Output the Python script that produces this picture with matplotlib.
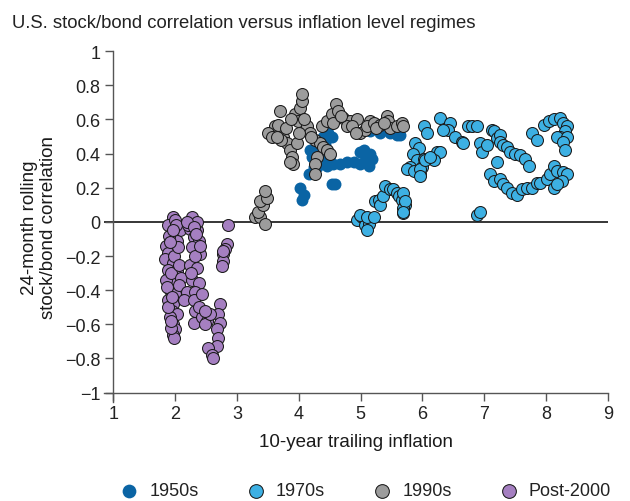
import matplotlib
matplotlib.use("Agg")
import matplotlib.pyplot as plt

plt.rcParams['font.family'] = ['Liberation Sans', 'DejaVu Sans']

# ---------------------------------------------------------------------
# DATA
# ---------------------------------------------------------------------

x_1950s = [4.40, 4.43, 4.45, 4.51, 4.35, 4.37, 4.18, 4.21, 4.29, 4.24, 4.16,
           4.02, 4.08, 4.05, 4.53, 4.59,
           4.29, 4.45, 4.56, 4.67, 4.78, 4.89, 4.99,
           4.99, 5.10, 5.18, 5.05, 5.13, 5.05, 5.15,
           5.15, 5.32, 5.48, 5.59, 5.64, 4.48, 4.54]
y_1950s = [0.50, 0.46, 0.42, 0.39, 0.44, 0.36, 0.42, 0.38, 0.40, 0.32, 0.28,
           0.20, 0.16, 0.13, 0.22, 0.22,
           0.32, 0.33, 0.34, 0.34, 0.35, 0.35, 0.34,
           0.41, 0.39, 0.37, 0.35, 0.33, 0.42, 0.40,
           0.53, 0.52, 0.52, 0.51, 0.51, 0.52, 0.50]

x_1970s = [4.94, 5.02, 5.07, 5.13, 5.10, 4.99, 5.10, 5.21,
           5.24, 5.29, 5.32, 5.37, 5.40, 5.48, 5.53, 5.59, 5.62, 5.67, 5.72,
           5.69, 5.69, 5.69, 5.72, 5.69,
           5.88, 5.94, 5.85, 5.91, 5.80, 5.96, 5.99, 6.02, 6.15, 6.23, 6.29,
           6.18, 5.75, 5.86, 5.96, 6.04, 6.12, 5.96,
           6.02, 6.07, 6.29, 6.45, 6.42, 6.34, 6.53, 6.64, 6.66, 6.74, 6.80, 6.88,
           6.93, 6.96, 7.04, 7.12, 7.15, 7.20, 7.26, 7.26, 7.31, 7.37, 7.42,
           7.50, 7.58, 7.66, 7.72,
           7.20, 7.09, 7.15, 7.26, 7.31, 7.37, 7.45, 7.53, 7.61, 7.69, 7.77, 7.85,
           7.90, 8.01, 8.07, 8.12, 8.17, 8.28, 8.34, 8.26, 8.12, 8.17,
           7.77, 7.85, 7.96, 8.04, 8.12, 8.23, 8.28, 8.34, 8.31, 8.23, 8.17,
           8.34, 8.28, 8.31,
           6.88, 6.93]
y_1970s = [0.01, 0.03, -0.02, -0.01, -0.05, 0.04, 0.03, 0.03,
           0.12, 0.13, 0.10, 0.15, 0.21, 0.19, 0.19, 0.17, 0.15, 0.13, 0.10,
           0.08, 0.05, 0.17, 0.12, 0.06,
           0.46, 0.43, 0.40, 0.36, 0.32, 0.28, 0.32, 0.37, 0.38, 0.41, 0.41,
           0.36, 0.31, 0.30, 0.31, 0.36, 0.38, 0.27,
           0.56, 0.52, 0.61, 0.58, 0.54, 0.54, 0.50, 0.47, 0.46, 0.56, 0.56, 0.56,
           0.46, 0.41, 0.45, 0.54, 0.53, 0.49, 0.51, 0.47, 0.45, 0.44, 0.41,
           0.40, 0.39, 0.37, 0.33,
           0.35, 0.28, 0.24, 0.25, 0.22, 0.20, 0.17, 0.16, 0.19, 0.20, 0.20, 0.23,
           0.23, 0.25, 0.28, 0.33, 0.30, 0.29, 0.28, 0.24, 0.20, 0.22,
           0.52, 0.48, 0.57, 0.59, 0.60, 0.61, 0.58, 0.56, 0.53, 0.50, 0.50,
           0.50, 0.47, 0.42,
           0.04, 0.06]

x_1990s = [3.29, 3.38, 3.34, 3.46, 3.43, 3.38, 3.48, 3.46,
           3.54, 3.62, 3.70, 3.67, 3.75, 3.81, 3.86, 3.89, 3.91, 3.86, 3.97,
           3.94, 4.02, 4.05, 4.05, 3.99,
           4.13, 4.18, 4.26, 4.35, 4.40, 4.45, 4.51, 4.29, 4.26, 4.26,
           4.37, 4.45, 4.53, 4.61, 4.64, 4.72, 4.83, 4.94, 4.78, 4.86,
           4.99, 5.07, 5.15, 5.10, 5.21, 5.32, 5.42, 5.45, 5.48, 5.59, 5.67,
           5.69, 4.93, 3.50, 3.56,
           3.80, 3.88, 4.00, 3.72, 3.65, 4.09, 4.20, 4.55, 4.68, 5.25, 5.38]
y_1990s = [0.03, 0.03, 0.06, -0.01, 0.10, 0.12, 0.14, 0.18,
           0.52, 0.56, 0.65, 0.57, 0.50, 0.46, 0.42, 0.38, 0.34, 0.35, 0.46,
           0.63, 0.67, 0.71, 0.75, 0.59,
           0.56, 0.52, 0.48, 0.46, 0.44, 0.42, 0.40, 0.38, 0.34, 0.28,
           0.56, 0.59, 0.63, 0.69, 0.65, 0.61, 0.59, 0.60, 0.56, 0.56,
           0.52, 0.54, 0.59, 0.56, 0.58, 0.57, 0.62, 0.59, 0.55, 0.56, 0.58,
           0.56, 0.52, 0.52, 0.50,
           0.55, 0.60, 0.52, 0.48, 0.50, 0.60, 0.50, 0.58, 0.62, 0.55, 0.58]

x_post2000 = [1.97, 1.89, 2.00, 2.08, 1.95, 2.03, 1.86, 1.89, 1.84, 1.97,
              1.89, 2.03, 1.95, 1.86, 1.92, 2.00, 1.89, 1.97, 1.95, 2.03,
              1.92, 1.97, 2.00, 1.97, 1.98, 1.90, 1.93, 1.88, 1.94, 1.99,
              2.05, 1.87, 1.95, 2.07, 2.10, 1.91, 2.06, 1.93, 2.02, 1.96,
              2.27, 2.24, 2.35, 2.30, 2.38, 2.27, 2.40, 2.24, 2.35, 2.27,
              2.38, 2.19, 2.32, 2.14, 2.30, 2.43, 2.32, 2.30, 2.43, 2.38,
              2.21, 2.33, 2.25, 2.36, 2.20, 2.30, 2.34, 2.41,
              2.73, 2.70, 2.73, 2.68, 2.70, 2.68, 2.54, 2.59, 2.62, 2.51,
              2.48, 2.57, 2.48,
              2.86, 2.84, 2.81, 2.78, 2.77, 2.76, 2.78]
y_post2000 = [0.03, -0.02, 0.01, -0.05, -0.09, -0.11, -0.14, -0.18, -0.22, -0.24,
              -0.28, -0.29, -0.35, -0.34, -0.40, -0.42, -0.46, -0.48, -0.52, -0.54,
              -0.56, -0.60, -0.63, -0.66, -0.68, -0.08, -0.30, -0.50, -0.62, -0.20,
              -0.15, -0.38, -0.44, -0.25, -0.33, -0.12, -0.37, -0.58, -0.02, -0.05,
              0.03, -0.04, -0.05, -0.09, -0.11, -0.15, -0.19, -0.25, -0.27, -0.34,
              -0.36, -0.41, -0.41, -0.46, -0.46, -0.42, -0.52, -0.59, -0.56, -0.50,
              -0.02, -0.20, -0.30, 0.00, 0.00, -0.03, -0.07, -0.14,
              -0.48, -0.54, -0.59, -0.63, -0.68, -0.73, -0.74, -0.78, -0.80, -0.58,
              -0.60, -0.54, -0.52,
              -0.02, -0.13, -0.16, -0.19, -0.23, -0.26, -0.17]

x_ticks = [1, 2, 3, 4, 5, 6, 7, 8, 9]
y_ticks = [1, 0.8, 0.6, 0.4, 0.2, 0, -0.2, -0.4, -0.6, -0.8, -1]
y_tick_labels = ["1", "0.8", "0.6", "0.4", "0.2", "0",
                 "\u22120.2", "\u22120.4", "\u22120.6", "\u22120.8", "\u22121"]

# ---------------------------------------------------------------------
# PLOT
# ---------------------------------------------------------------------

fig = plt.figure(figsize=(6.3, 5.02), dpi=100)
ax = fig.add_axes([0.165, 0.197, 0.800, 0.699])

dot = 74
ax.scatter(x_1950s, y_1950s, s=dot, color="#0A64A4", linewidths=0,
           label="1950s", zorder=2)
ax.scatter(x_1970s, y_1970s, s=dot, color="#3DB0E3", edgecolors="#1a1a1a",
           linewidths=0.75, label="1970s", zorder=3)
ax.scatter(x_1990s, y_1990s, s=dot, color="#9C9C9C", edgecolors="#1a1a1a",
           linewidths=0.75, label="1990s", zorder=3)
ax.scatter(x_post2000, y_post2000, s=dot, color="#A57FC1", edgecolors="#1a1a1a",
           linewidths=0.75, label="Post-2000", zorder=3)

ax.axhline(0, color="black", linewidth=1.1, zorder=1)

ax.set_xlim(0.85, 9)
ax.set_ylim(-1.056, 1)

for side in ["top", "right"]:
    ax.spines[side].set_visible(False)
ax.spines["bottom"].set_position(("data", -1))
ax.spines["left"].set_position(("data", 1))
ax.spines["bottom"].set_bounds(0.85, 9)
ax.spines["left"].set_bounds(-1.056, 1)
for side in ["bottom", "left"]:
    ax.spines[side].set_color("#555555")
    ax.spines[side].set_linewidth(1.0)

ax.set_xticks(x_ticks)
ax.set_yticks(y_ticks)
ax.set_yticklabels(y_tick_labels)
ax.tick_params(axis="both", direction="out", length=6, width=1.0,
               color="#555555", labelsize=13, labelcolor="#222222", pad=3)

ax.set_xlabel("10-year trailing inflation", fontsize=13.5, color="#1a1a1a",
              labelpad=8)
ax.set_ylabel("24-month rolling\nstock/bond correlation", fontsize=13.5,
              color="#1a1a1a", labelpad=6, linespacing=1.1)

fig.text(0.019, 0.945, "U.S. stock/bond correlation versus inflation level regimes",
         fontsize=13.3, color="#222222", ha="left", va="baseline")

fig.legend(loc="center", bbox_to_anchor=(0.577, 0.02), ncol=4, frameon=False,
           fontsize=13, handlelength=1.5, handletextpad=0.36, columnspacing=2.42,
           markerscale=1.15, scatterpoints=1, labelcolor="#222222")

fig.savefig("out.png", dpi=100)
